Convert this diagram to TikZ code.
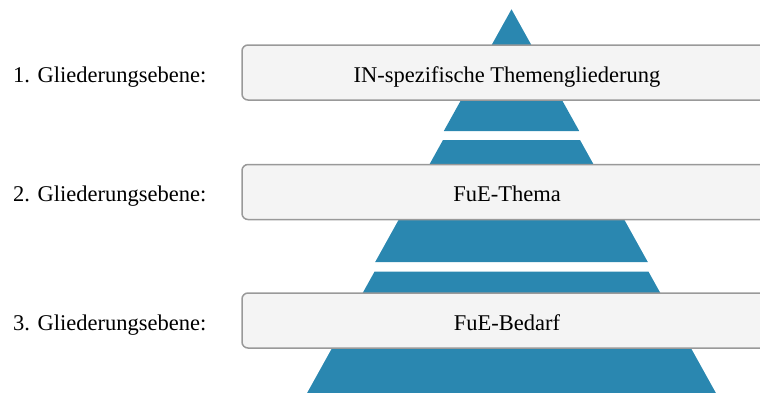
\documentclass[tikz,border=0pt]{standalone}
\usepackage{fontspec}
\setmainfont{Liberation Serif}
\definecolor{pyr}{HTML}{2A87B0}
\definecolor{boxfill}{HTML}{F4F4F4}
\definecolor{boxline}{HTML}{999999}
\begin{document}
\begin{tikzpicture}[x=1pt,y=-1pt,
  levelbox/.style={draw=boxline, line width=1.5pt, fill=boxfill, rounded corners=6pt,
    minimum width=530pt, minimum height=55pt, inner sep=0pt,
    text height=19.5pt, text depth=0.5pt, font=\fontsize{22.5}{27}\selectfont},
  levellabel/.style={anchor=base west, inner sep=0pt, font=\fontsize{22.5}{27}\selectfont},
  seg/.style={fill=pyr}]
\useasboundingbox (0,0) rectangle (760,392);
\clip (0,0) rectangle (760,392);
% pyramid segments
\fill[seg] (511.5,9.3) -- (579.2,131) -- (443.8,131) -- cycle;
\fill[seg] (443.0,140) -- (580.0,140) -- (647.8,262) -- (375.2,262) -- cycle;
\fill[seg] (374.5,271.7) -- (648.5,271.7) -- (719.8,400) -- (303.2,400) -- cycle;
% boxes
\node[levelbox] (b1) at (507,72.5) {IN-spezifische Themengliederung};
\node[levelbox] (b2) at (507,192) {FuE-Thema};
\node[levelbox] (b3) at (507,320.5) {FuE-Bedarf};
% labels
\node[levellabel] (l1) at (13,82) {1. Gliederungsebene:};
\node[levellabel] (l2) at (13,201.5) {2. Gliederungsebene:};
\node[levellabel] (l3) at (13,330) {3. Gliederungsebene:};
\end{tikzpicture}
\end{document}
